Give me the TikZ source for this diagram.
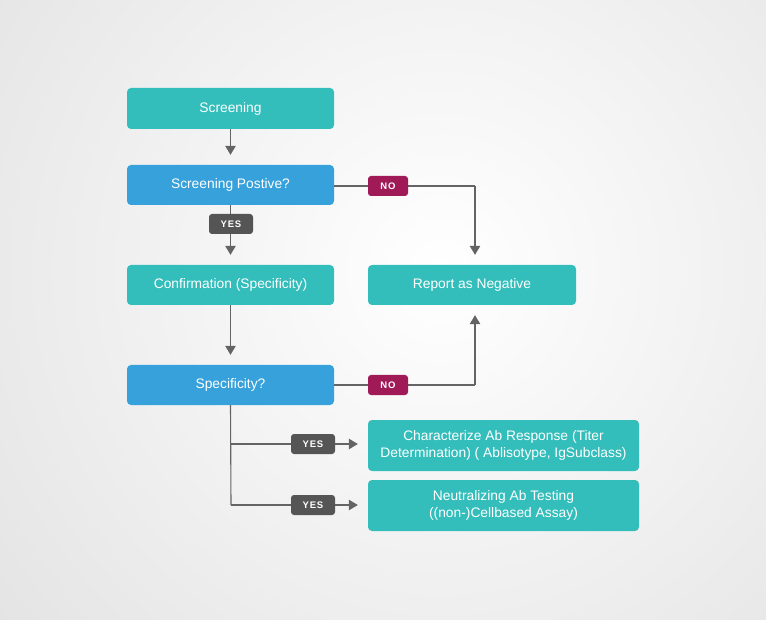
\documentclass[tikz,border=0pt]{standalone}
\usepackage{fontspec}
\setmainfont{Liberation Sans}
\usetikzlibrary{arrows.meta,calc}
\definecolor{tealbox}{RGB}{51,190,187}
\definecolor{bluebox}{RGB}{54,161,219}
\definecolor{nocol}{RGB}{160,26,88}
\definecolor{yescol}{RGB}{85,85,85}
\definecolor{linecol}{RGB}{100,100,100}
\definecolor{edgegray}{RGB}{212,212,212}
\tikzset{
  box/.style={rounded corners=4pt, minimum width=207pt, minimum height=40pt, text=white, inner sep=2pt, font=\fontsize{13.8}{17}\selectfont, align=center},
  tealnode/.style={box, fill=tealbox},
  bluenode/.style={box, fill=bluebox},
  tag/.style={rounded corners=3pt, minimum height=20pt, text=white, inner sep=1pt, font=\fontsize{9.5}{11}\selectfont\bfseries\addfontfeature{LetterSpace=8}},
  notag/.style={tag, fill=nocol, minimum width=40pt},
  yestag/.style={tag, fill=yescol, minimum width=44pt},
  conn/.style={draw=linecol, line width=1.1pt},
  arr/.style={conn, -{Triangle[width=10.5pt,length=9pt]}, shorten >=10pt}
}
\begin{document}
\begin{tikzpicture}[x=1pt,y=-1pt]
\useasboundingbox (0,0) rectangle (766,620);
\begin{scope}
\clip (0,0) rectangle (766,620);
\shade[inner color=white, outer color=edgegray] (440,270) circle (900);
\end{scope}

\node[tealnode, minimum height=41pt] (scr) at (230.5,108.5) {Screening};
\node[bluenode] (sp) at (230.5,185) {Screening Postive?};
\node[tealnode] (conf) at (230.5,285) {Confirmation (Specificity)};
\node[tealnode, minimum width=208pt] (rep) at (472,285) {Report as Negative};
\node[bluenode] (spec) at (230.5,385) {Specificity?};
\node[tealnode, minimum width=271pt, minimum height=51pt] (char) at (503.5,445.5) {Characterize Ab Response (Titer\\Determination) ( Ablisotype, IgSubclass)};
\node[tealnode, minimum width=271pt, minimum height=51pt] (neut) at (503.5,505.5) {Neutralizing Ab Testing\\((non-)Cellbased Assay)};

\coordinate (c1) at (475,186);
\coordinate (c2) at (475,385);
\coordinate (b1) at (231,444);
\coordinate (b2) at (231,505);

\draw[arr] (scr.south) -- (sp.north);
\draw[arr] (sp.south) -- (conf.north);
\draw[arr] (conf.south) -- (spec.north);
\draw[conn] (sp.east |- c1) -- (c1);
\draw[arr] (c1) -- (c1 |- rep.north);
\draw[conn] (spec.east |- c2) -- (c2);
\draw[arr] (c2) -- (c2 |- rep.south);
\draw[conn] (spec.south) -- (b2);
\draw[arr] (b1) -- (b1 -| char.west);
\draw[arr] (b2) -- (b2 -| neut.west);

\node[notag] (no1) at (388,186) {NO};
\node[notag] (no2) at (388,385) {NO};
\node[yestag] (yes1) at (231,224) {YES};
\node[yestag] (yes2) at (313,444) {YES};
\node[yestag] (yes3) at (313,505) {YES};
\end{tikzpicture}
\end{document}
